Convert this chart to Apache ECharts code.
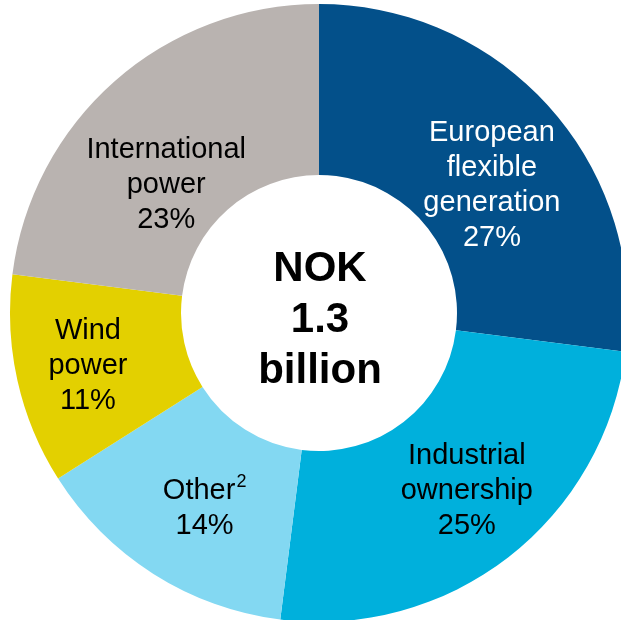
<!DOCTYPE html>
<html>
<head>
<meta charset="utf-8">
<style>
  html, body { margin: 0; padding: 0; background: #ffffff; }
  #chart { width: 621px; height: 620px; }
</style>
<script src="https://cdn.jsdelivr.net/npm/echarts@6/dist/echarts.min.js"></script>
</head>
<body>
<div id="chart"></div>
<script>
// Segment names (label text) and their shares in percent
const segments = [
  'European\nflexible\ngeneration',
  'Industrial\nownership',
  'Other{sup|2}',
  'Wind\npower',
  'International\npower'
];
const shares = [27, 25, 14, 11, 23];
const totalLines = ['NOK', '1.3', 'billion'];

// Styling per segment
const sliceColors = ['#03508a', '#00b0dc', '#83d8f2', '#e3d000', '#b9b3b0'];
const labelColors = ['#ffffff', '#000000', '#000000', '#000000', '#000000'];
const labelShifts = [[3, 22], [9, -1], [7, 4], [-10, 4], [-3, 42]];

const FONT = '"Liberation Sans", Arial, Helvetica, sans-serif';

const chart = echarts.init(document.getElementById('chart'));

chart.setOption({
  animation: false,
  backgroundColor: '#ffffff',
  series: [{
    type: 'pie',
    center: [319, 313],
    radius: [138, 309],
    startAngle: 90,
    clockwise: true,
    avoidLabelOverlap: false,
    silent: true,
    label: {
      show: true,
      position: 'inside',
      fontFamily: FONT,
      fontSize: 29,
      lineHeight: 35,
      formatter: p => p.name + '\n' + p.value + '%',
      rich: {
        sup: { fontFamily: FONT, fontSize: 18, lineHeight: 35, verticalAlign: 'top', padding: [0, 0, 0, 1] }
      }
    },
    labelLine: { show: false },
    itemStyle: { borderWidth: 0 },
    data: segments.map((name, i) => ({
      name: name,
      value: shares[i],
      itemStyle: { color: sliceColors[i] },
      label: { color: labelColors[i], offset: labelShifts[i] }
    }))
  }],
  graphic: [{
    type: 'text',
    x: 320,
    y: 320,
    style: {
      text: totalLines.join('\n'),
      fontFamily: FONT,
      fontWeight: 'bold',
      fontSize: 42,
      lineHeight: 51,
      fill: '#000000',
      align: 'center',
      verticalAlign: 'middle'
    }
  }]
});
</script>
</body>
</html>
